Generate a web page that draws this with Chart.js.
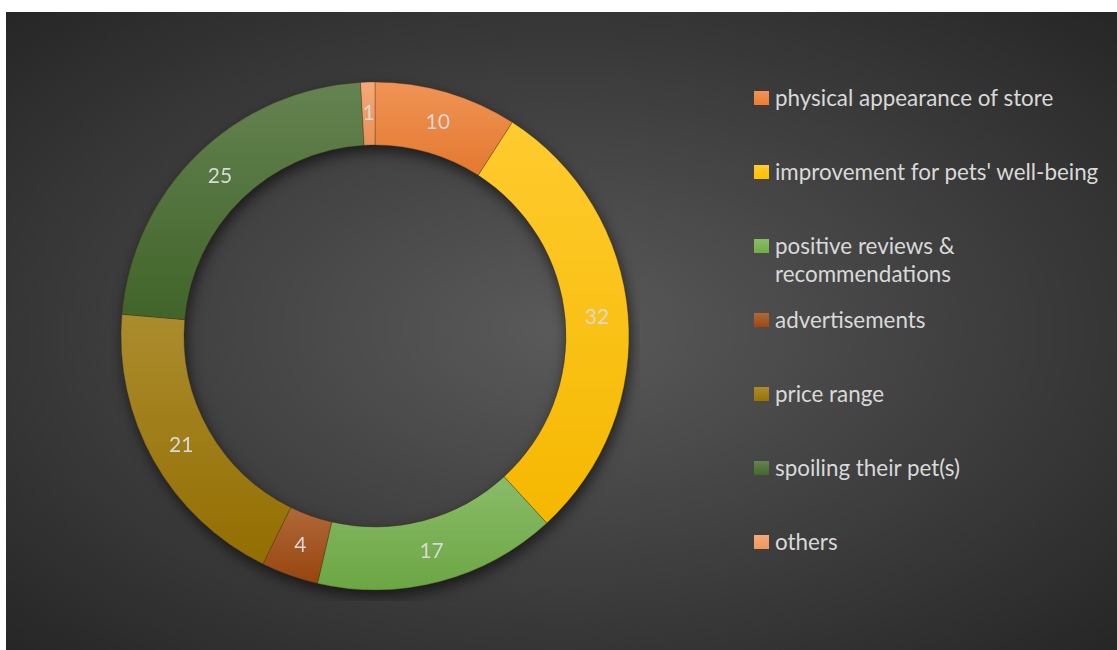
<!DOCTYPE html>
<html>
<head>
<meta charset="utf-8">
<script src="https://cdn.jsdelivr.net/npm/chart.js@4.4.0/dist/chart.umd.min.js"></script>
<style>
    html, body { margin: 0; padding: 0; background: #ffffff; }
    body { width: 1117px; height: 650px; position: relative; overflow: hidden; font-family: Lato, "Open Sans", sans-serif; }
    #panel {
        position: absolute; left: 6px; top: 12px; width: 1111px; height: 638px;
        background: radial-gradient(ellipse farthest-corner at 50% 50%, #5a5a5a 0%, #262626 100%);
    }
    #chartBox { position: absolute; left: 104px; top: 59px; width: 530px; height: 530px; }
    #legend { position: absolute; left: 0; top: 0; }
    .item { position: absolute; left: 748px; color: #d9d9d9; font-size: 22.4px; line-height: 28px; }
    .item .box { position: absolute; left: 0; top: 7px; width: 15px; height: 14px; }
    .item .txt { position: absolute; left: 21px; top: 0; white-space: nowrap; }
</style>
</head>
<body>
<div id="panel">
    <div id="chartBox"><canvas id="ringChart"></canvas></div>
    <div id="legend"></div>
</div>
<script>
// chart data
const categories = ['physical appearance of store', "improvement for pets' well-being", 'positive reviews & recommendations', 'advertisements', 'price range', 'spoiling their pet(s)', 'others'];
const counts = [10, 32, 17, 4, 21, 25, 1];
// legend text (one entry wraps onto two lines)
const legendLines = [['physical appearance of store'], ["improvement for pets' well-being"], ['positive reviews &', 'recommendations'], ['advertisements'], ['price range'], ['spoiling their pet(s)'], ['others']];

const sliceColors = ['#ED7D31', '#FFC000', '#70AD47', '#9E480E', '#997300', '#43682B', '#F1975A'];

function mix(hex, target, t) {
    const n = parseInt(hex.slice(1), 16);
    const r = (n >> 16) & 255, g = (n >> 8) & 255, b = n & 255;
    const m = c => Math.round(c + (target - c) * t);
    return 'rgb(' + m(r) + ',' + m(g) + ',' + m(b) + ')';
}

// shadow under the ring + top-lit gradient on every slice
const ringLook = {
    id: 'ringLook',
    beforeDatasetsDraw(chart) {
        const ctx = chart.ctx;
        const arcs = chart.getDatasetMeta(0).data;
        if (!arcs.length) return;
        const a0 = arcs[0];
        ctx.save();
        ctx.shadowColor = 'rgba(0,0,0,0.6)';
        ctx.shadowBlur = 14;
        ctx.shadowOffsetX = 2;
        ctx.shadowOffsetY = 6;
        ctx.beginPath();
        ctx.arc(a0.x, a0.y, a0.outerRadius, 0, Math.PI * 2);
        ctx.moveTo(a0.x + a0.innerRadius, a0.y);
        ctx.arc(a0.x, a0.y, a0.innerRadius, 0, Math.PI * 2, true);
        ctx.fillStyle = '#3a3a3a';
        ctx.fill();
        ctx.restore();

        arcs.forEach((arc, i) => {
            let minY = Infinity, maxY = -Infinity;
            for (let k = 0; k <= 40; k++) {
                const a = arc.startAngle + (arc.endAngle - arc.startAngle) * k / 40;
                [arc.innerRadius, arc.outerRadius].forEach(r => {
                    const y = arc.y + Math.sin(a) * r;
                    minY = Math.min(minY, y);
                    maxY = Math.max(maxY, y);
                });
            }
            const g = ctx.createLinearGradient(0, minY, 0, maxY);
            g.addColorStop(0, mix(sliceColors[i], 255, 0.18));
            g.addColorStop(1, mix(sliceColors[i], 0, 0.04));
            arc.options = Object.assign({}, arc.options, { backgroundColor: g });
        });
    }
};

// value labels in the middle of each slice
const sliceValues = {
    id: 'sliceValues',
    afterDatasetsDraw(chart) {
        const ctx = chart.ctx;
        const arcs = chart.getDatasetMeta(0).data;
        ctx.save();
        ctx.fillStyle = '#d9d9d9';
        ctx.font = '21px Lato, "Open Sans", sans-serif';
        ctx.textAlign = 'center';
        ctx.textBaseline = 'middle';
        arcs.forEach((arc, i) => {
            const p = arc.tooltipPosition();
            ctx.fillText(String(counts[i]), p.x, p.y);
        });
        ctx.restore();
    }
};

const ringElem = document.getElementById('ringChart');
if (ringElem) {
    new Chart(ringElem.getContext('2d'), {
        type: 'doughnut',
        data: {
            labels: categories,
            datasets: [{
                data: counts,
                backgroundColor: sliceColors,
                borderColor: 'rgba(70,45,20,0.35)',
                borderWidth: 1
            }]
        },
        options: {
            responsive: true,
            maintainAspectRatio: false,
            animation: false,
            radius: 254,
            cutout: '75.2%',
            layout: { padding: 0 },
            plugins: { legend: { display: false }, tooltip: { enabled: false } }
        },
        plugins: [ringLook, sliceValues]
    });
}

// legend on the right
const legend = document.getElementById('legend');
legendLines.forEach((lines, i) => {
    const item = document.createElement('div');
    item.className = 'item';
    item.style.top = (72 + 74 * i) + 'px';
    const box = document.createElement('div');
    box.className = 'box';
    box.style.background = 'linear-gradient(' + mix(sliceColors[i], 255, 0.18) + ',' + sliceColors[i] + ')';
    const txt = document.createElement('div');
    txt.className = 'txt';
    txt.innerHTML = lines.join('<br>');
    item.appendChild(box);
    item.appendChild(txt);
    legend.appendChild(item);
});
</script>
</body>
</html>
